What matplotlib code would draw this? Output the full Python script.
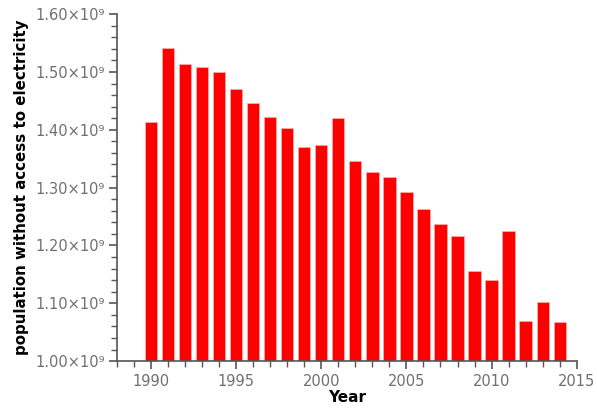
import numpy as np
import matplotlib.pyplot as plt
from matplotlib.ticker import FuncFormatter, MultipleLocator

years = list(range(1990, 2015))
# population without access to electricity (people)
pop = [1.413e9, 1.541e9, 1.514e9, 1.508e9, 1.500e9, 1.470e9, 1.446e9, 1.422e9,
       1.403e9, 1.370e9, 1.373e9, 1.420e9, 1.346e9, 1.327e9, 1.318e9, 1.292e9,
       1.263e9, 1.237e9, 1.216e9, 1.156e9, 1.140e9, 1.225e9, 1.069e9, 1.102e9,
       1.067e9]

fig = plt.figure(figsize=(5.97, 4.16), dpi=100)
ax = fig.add_axes([0.196, 0.132, 0.77, 0.834])

ax.bar(years, pop, width=0.72, color='#ff0000', edgecolor='#ffb0b0', linewidth=0.5)

ax.set_xlim(1988, 2015)
ax.set_ylim(1.0e9, 1.6e9)
ax.xaxis.set_major_locator(MultipleLocator(5))
ax.xaxis.set_minor_locator(MultipleLocator(1))
ax.yaxis.set_major_locator(MultipleLocator(0.1e9))
ax.yaxis.set_minor_locator(MultipleLocator(0.02e9))

def fmt(v, pos):
    return '%.2f×10⁹' % (v / 1e9)
ax.yaxis.set_major_formatter(FuncFormatter(fmt))

for s in ['top', 'right']:
    ax.spines[s].set_visible(False)
for s in ['left', 'bottom']:
    ax.spines[s].set_color('#555555')
    ax.spines[s].set_linewidth(1.2)

ax.tick_params(which='major', length=6, width=1.2, color='#555555',
               labelcolor='#707070', labelsize=10.5, pad=3)
ax.tick_params(which='minor', length=4, width=1, color='#555555')

ax.set_xlabel('Year', fontweight='bold', fontsize=11, labelpad=1)
ax.set_ylabel('population without access to electricity', fontweight='bold',
              fontsize=10.8, labelpad=4)

fig.savefig('out.png', dpi=100)
